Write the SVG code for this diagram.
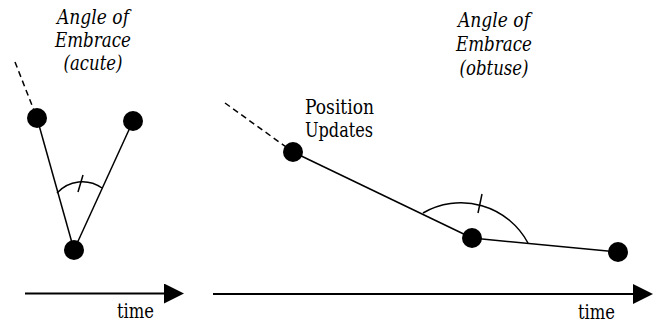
<svg xmlns="http://www.w3.org/2000/svg" width="657" height="323" viewBox="0 0 657 323">
<style>
.t{font-family:"DejaVu Serif","Liberation Serif",serif;font-size:20px;fill:#000}
.it{font-style:italic}
.ln{stroke:#000;stroke-width:1.5;fill:none}
.dash{stroke-dasharray:6 4}
.ax{stroke:#000;stroke-width:2.2;fill:none}
.dot{fill:#000}
</style>
<defs>
<marker id="ah" markerWidth="20" markerHeight="20" viewBox="0 0 20 20" refX="0" refY="10" orient="auto" markerUnits="userSpaceOnUse">
<polygon points="0,0 20,10 0,20" fill="#000"/>
</marker>
</defs>
<g id="connectors">
<line class="ln dash" x1="15" y1="62" x2="37" y2="118"/>
<line class="ln" x1="37" y1="118" x2="74" y2="250"/>
<line class="ln" x1="74" y1="250" x2="133" y2="121"/>
<path class="ln" d="M57,193 A34,34 0 0 1 102,188"/>
<line class="ln" x1="83" y1="175" x2="78" y2="192"/>
<line class="ln dash" x1="225" y1="103" x2="293" y2="152"/>
<line class="ln" x1="293" y1="152" x2="472" y2="238"/>
<line class="ln" x1="472" y1="238" x2="618" y2="252"/>
<path class="ln" d="M423,213 A76,76 0 0 1 528,243"/>
<line class="ln" x1="482" y1="194" x2="478" y2="213"/>
<line class="ax" x1="25" y1="293.5" x2="164" y2="293.5" marker-end="url(#ah)"/>
<line class="ax" x1="213" y1="294" x2="633" y2="294" marker-end="url(#ah)"/>
</g>
<g id="p1"><circle class="dot" cx="37" cy="118" r="10"/></g>
<g id="p2"><circle class="dot" cx="74" cy="250" r="10"/></g>
<g id="p3"><circle class="dot" cx="133" cy="121" r="10"/></g>
<g id="q1"><circle class="dot" cx="293" cy="152" r="10"/></g>
<g id="q2"><circle class="dot" cx="472" cy="238" r="10"/></g>
<g id="q3"><circle class="dot" cx="618" cy="252" r="10"/></g>
<g id="label-acute" text-anchor="middle">
<text class="t it" x="93" y="24" textLength="72" lengthAdjust="spacingAndGlyphs">Angle of</text>
<text class="t it" x="93" y="47" textLength="76" lengthAdjust="spacingAndGlyphs">Embrace</text>
<text class="t it" x="93" y="70" textLength="59" lengthAdjust="spacingAndGlyphs">(acute)</text>
</g>
<g id="label-obtuse" text-anchor="middle">
<text class="t it" x="494" y="27" textLength="72" lengthAdjust="spacingAndGlyphs">Angle of</text>
<text class="t it" x="494" y="51" textLength="76" lengthAdjust="spacingAndGlyphs">Embrace</text>
<text class="t it" x="494" y="75" textLength="69" lengthAdjust="spacingAndGlyphs">(obtuse)</text>
</g>
<g id="label-updates">
<text class="t" x="305" y="114" textLength="69" lengthAdjust="spacingAndGlyphs">Position</text>
<text class="t" x="305" y="137" textLength="68" lengthAdjust="spacingAndGlyphs">Updates</text>
</g>
<g id="time1"><text class="t" x="117" y="318" textLength="37" lengthAdjust="spacingAndGlyphs">time</text></g>
<g id="time2"><text class="t" x="578" y="319" textLength="37" lengthAdjust="spacingAndGlyphs">time</text></g>
</svg>
